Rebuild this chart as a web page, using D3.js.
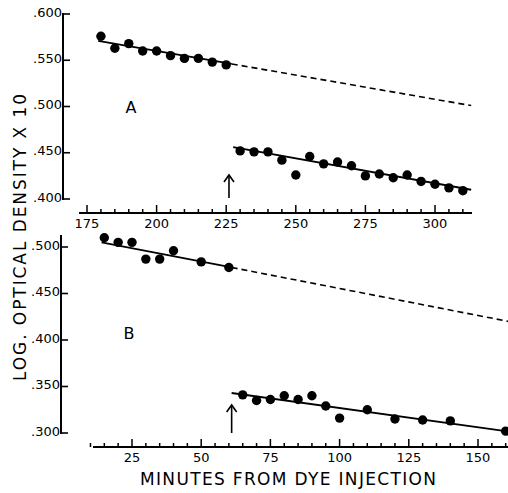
<!DOCTYPE html>
<html>
<head>
<meta charset="utf-8">
<script src="https://cdnjs.cloudflare.com/ajax/libs/d3/7.8.5/d3.min.js"></script>
<style>
  body { margin: 0; background: #fff; }
  text { font-family: "DejaVu Sans", "Liberation Sans", sans-serif; fill: #000; }
</style>
</head>
<body>
<svg id="chart" width="508" height="493"></svg>
<script>

// Panel A: minutes and log optical density x 10
var timesA1 = [180, 185, 190, 195, 200, 205, 210, 215, 220, 225];
var valuesA1 = [.576, .563, .568, .560, .560, .555, .552, .552, .548, .545];
var timesA2 = [230, 235, 240, 245, 250, 255, 260, 265, 270, 275, 280, 285, 290, 295, 300, 305, 310];
var valuesA2 = [.452, .451, .451, .442, .426, .446, .438, .440, .436, .425, .427, .423, .426, .419, .416, .412, .409];

// Panel B
var timesB1 = [15, 20, 25, 30, 35, 40, 50, 60];
var valuesB1 = [.510, .505, .505, .487, .487, .496, .484, .478];
var timesB2 = [65, 70, 75, 80, 85, 90, 95, 100, 110, 120, 130, 140, 160];
var valuesB2 = [.341, .335, .336, .340, .336, .340, .329, .316, .325, .315, .314, .313, .302];

// fitted lines: [start, end of solid part, end of dashed part]
var fitA1 = [[179, .571], [227, .546], [313, .501]];
var fitA2 = [[227.5, .456], [313, .410]];
var fitB1 = [[14, .505], [61, .478], [161, .420]];
var fitB2 = [[61, .343], [160, .302]];

// arrow = dye given again
var arrowTimes = [226, 61];

var xTicksA = [175, 200, 225, 250, 275, 300];
var yTicksA = [.400, .450, .500, .550, .600];
var xTicksB = [25, 50, 75, 100, 125, 150];
var yTicksB = [.300, .350, .400, .450, .500];

var svg = d3.select("#chart");

var fmt = function(d) { return d3.format(".3f")(d).replace(/^0/, ""); };

function panel(p) {

  var x = d3.scaleLinear().domain(p.xDomain).range(p.xRange),
      y = d3.scaleLinear().domain(p.yDomain).range(p.yRange);

  var g = svg.append("g");

  // y axis: line with ticks pointing right
  g.append("line")
    .attr("x1", p.yAxisX).attr("x2", p.yAxisX)
    .attr("y1", p.yAxisTop).attr("y2", y(p.yDomain[0]) + 1)
    .attr("stroke", "#000").attr("stroke-width", 2);

  g.selectAll(".ytick").data(p.yTicks).enter().append("line")
    .attr("x1", p.yAxisX).attr("x2", p.yAxisX + 7)
    .attr("y1", function(d) { return y(d); })
    .attr("y2", function(d) { return y(d); })
    .attr("stroke", "#000").attr("stroke-width", 1.6);

  g.selectAll(".ylab").data(p.yTicks).enter().append("text")
    .attr("x", p.yAxisX - 1)
    .attr("y", function(d) { return y(d); })
    .attr("dy", "0.2em")
    .attr("text-anchor", "end")
    .attr("font-size", "13px")
    .text(fmt);

  // x axis: base line, minor ticks every 5 minutes, major every 25
  g.append("line")
    .attr("x1", p.xAxisFrom).attr("x2", p.xAxisTo)
    .attr("y1", p.xAxisY).attr("y2", p.xAxisY)
    .attr("stroke", "#000").attr("stroke-width", 2);

  var minor = d3.range(p.minorFrom, p.minorTo + 1, 5);
  g.selectAll(".xtick").data(minor).enter().append("line")
    .attr("x1", function(d) { return x(d); })
    .attr("x2", function(d) { return x(d); })
    .attr("y1", p.xAxisY)
    .attr("y2", function(d) { return p.xAxisY - (d % 25 === 0 ? 8 : 4); })
    .attr("stroke", "#000").attr("stroke-width", 1.5);

  g.selectAll(".xlab").data(p.xTicks).enter().append("text")
    .attr("x", function(d) { return x(d); })
    .attr("y", p.xAxisY + 15)
    .attr("text-anchor", "middle")
    .attr("font-size", "13px")
    .text(function(d) { return d; });

  // fitted lines
  var line = d3.line()
    .x(function(d) { return x(d[0]); })
    .y(function(d) { return y(d[1]); });

  g.append("path").datum(p.fit1.slice(0, 2))
    .attr("d", line).attr("fill", "none")
    .attr("stroke", "#000").attr("stroke-width", 1.8);
  g.append("path").datum(p.fit1.slice(1))
    .attr("d", line).attr("fill", "none")
    .attr("stroke", "#000").attr("stroke-width", 1.6)
    .attr("stroke-dasharray", "6,4");
  g.append("path").datum(p.fit2)
    .attr("d", line).attr("fill", "none")
    .attr("stroke", "#000").attr("stroke-width", 1.8);

  // points
  var pts = p.times1.map(function(t, i) { return [t, p.values1[i]]; })
    .concat(p.times2.map(function(t, i) { return [t, p.values2[i]]; }));
  g.selectAll(".dot").data(pts).enter().append("circle")
    .attr("cx", function(d) { return x(d[0]); })
    .attr("cy", function(d) { return y(d[1]); })
    .attr("r", 4.7)
    .attr("fill", "#000");

  // arrow
  var ax = x(p.arrow);
  g.append("line")
    .attr("x1", ax).attr("x2", ax)
    .attr("y1", p.arrowY[0]).attr("y2", p.arrowY[1])
    .attr("stroke", "#000").attr("stroke-width", 1.6);
  g.append("path")
    .attr("d", "M" + (ax - 5) + "," + (p.arrowY[0] + 7) + "L" + ax + "," + p.arrowY[0] + "L" + (ax + 5) + "," + (p.arrowY[0] + 7))
    .attr("fill", "none").attr("stroke", "#000").attr("stroke-width", 1.6);

  // panel letter
  g.append("text")
    .attr("x", p.letterPos[0]).attr("y", p.letterPos[1])
    .attr("text-anchor", "middle")
    .attr("font-size", "16px")
    .text(p.letter);
}

panel({
  xDomain: [175, 300], xRange: [87, 435],
  yDomain: [.4, .6], yRange: [199, 14],
  yAxisX: 63, yAxisTop: 13, yTicks: yTicksA,
  xAxisY: 213, xAxisFrom: 79, xAxisTo: 472,
  minorFrom: 175, minorTo: 310, xTicks: xTicksA,
  times1: timesA1, values1: valuesA1, times2: timesA2, values2: valuesA2,
  fit1: fitA1, fit2: fitA2,
  arrow: arrowTimes[0], arrowY: [175, 198],
  letter: "A", letterPos: [131, 113]
});

panel({
  xDomain: [25, 150], xRange: [132, 478],
  yDomain: [.3, .5], yRange: [433, 247],
  yAxisX: 61, yAxisTop: 235, yTicks: yTicksB,
  xAxisY: 447, xAxisFrom: 93, xAxisTo: 508,
  minorFrom: 10, minorTo: 160, xTicks: xTicksB,
  times1: timesB1, values1: valuesB1, times2: timesB2, values2: valuesB2,
  fit1: fitB1, fit2: fitB2,
  arrow: arrowTimes[1], arrowY: [405, 433],
  letter: "B", letterPos: [129, 339]
});

// axis titles
svg.append("text")
  .attr("x", 140).attr("y", 485)
  .attr("font-size", "17px")
  .attr("textLength", 296)
  .attr("lengthAdjust", "spacing")
  .text("MINUTES FROM DYE INJECTION");

svg.append("text")
  .attr("transform", "translate(26,381) rotate(-90)")
  .attr("font-size", "17px")
  .attr("textLength", 287)
  .attr("lengthAdjust", "spacing")
  .text("LOG. OPTICAL DENSITY X 10");

</script>
</body>
</html>
